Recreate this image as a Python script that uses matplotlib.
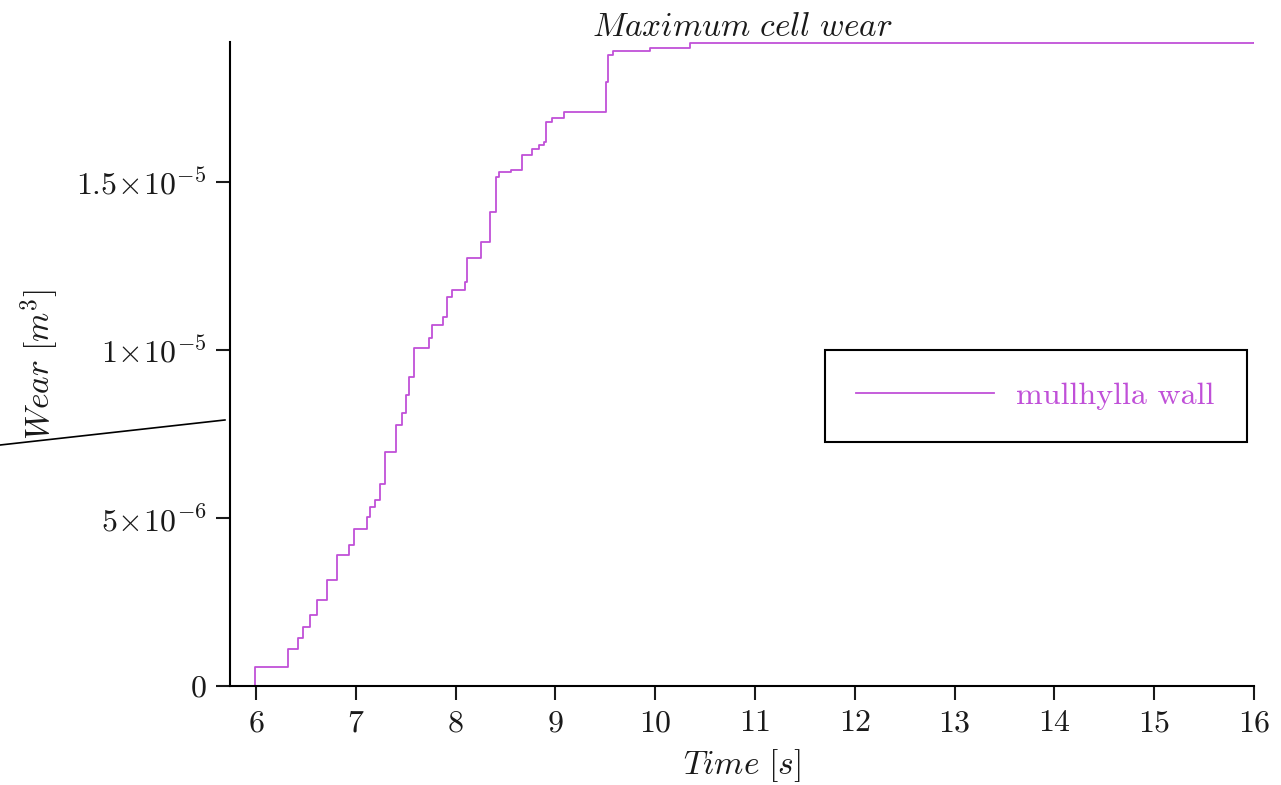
import matplotlib
matplotlib.use("Agg")
from matplotlib import pyplot as plt
from matplotlib.lines import Line2D

plt.rcParams['mathtext.fontset'] = 'cm'
plt.rcParams['font.family'] = 'serif'
plt.rcParams['font.serif'] = ['cmr10', 'DejaVu Serif']
plt.rcParams['axes.formatter.use_mathtext'] = True

# step change points (time in s, wear in 1e-6 m^3)
times = [5.74, 5.99, 6.32, 6.42, 6.47, 6.54, 6.61, 6.71, 6.81, 6.93, 6.98,
         7.11, 7.14, 7.19, 7.24, 7.29, 7.40, 7.46, 7.50, 7.53, 7.58, 7.73,
         7.76, 7.87, 7.91, 7.96, 8.09, 8.11, 8.26, 8.35, 8.41, 8.44, 8.56,
         8.67, 8.77, 8.84, 8.89, 8.91, 8.97, 9.09, 9.51, 9.53, 9.58, 9.95,
         10.35, 16.0]
wear_e6 = [0.0, 0.58, 1.10, 1.43, 1.76, 2.11, 2.56, 3.15, 3.90, 4.20, 4.68,
           5.04, 5.34, 5.54, 6.00, 6.97, 7.77, 8.12, 8.66, 9.20, 10.05, 10.35,
           10.74, 10.99, 11.59, 11.80, 12.03, 12.73, 13.22, 14.12, 15.16, 15.30,
           15.36, 15.80, 16.00, 16.10, 16.20, 16.80, 16.90, 17.09, 17.98, 18.78,
           18.91, 19.00, 19.13, 19.17]
wear = [w * 1e-6 for w in wear_e6]

x_ticks = [6, 7, 8, 9, 10, 11, 12, 13, 14, 15, 16]
y_ticks = [0, 5e-6, 1e-5, 1.5e-5]
y_tick_labels = [r'$0$', r'$5\!\times\!10^{-6}$', r'$1\!\times\!10^{-5}$',
                 r'$1.5\!\times\!10^{-5}$']

line_color = '#c050d8'
text_color = '#1a1a1a'

fig = plt.figure(figsize=(12.81, 7.85), dpi=100)
ax = fig.add_axes([0.1795, 0.126, 0.7995, 0.8205])

ax.step(times, wear, where='post', color=line_color, lw=1.3,
        label='mullhylla wall')

ax.set_xlim(5.74, 16)
ax.set_ylim(0, 1.917e-5)
ax.set_xticks(x_ticks)
ax.set_xticklabels([r'$%d$' % t for t in x_ticks])
ax.set_yticks(y_ticks)
ax.set_yticklabels(y_tick_labels)

for s in ['top', 'right']:
    ax.spines[s].set_visible(False)
for s in ['left', 'bottom']:
    ax.spines[s].set_linewidth(1.5)
ax.tick_params(direction='out', length=10, width=1.5, labelsize=23,
               colors=text_color, pad=7)

ax.set_title(r'$Maximum\ cell\ wear$', fontsize=24, color=text_color, pad=1)
ax.set_xlabel(r'$Time\ [s]$', fontsize=24, color=text_color)
ax.set_ylabel(r'$Wear\ [m^3]$', fontsize=24, color=text_color)
ax.xaxis.set_label_coords(0.5, -0.095)
ax.yaxis.set_label_coords(-0.165, 0.5)

leg = ax.legend(loc='center', bbox_to_anchor=(0.7866, 0.4503), fontsize=23,
                handlelength=4.3, handletextpad=0.7, borderpad=1.0,
                fancybox=False, framealpha=1, edgecolor='black')
leg.get_frame().set_linewidth(1.5)
for t in leg.get_texts():
    t.set_color(line_color)

# stray line on the left edge
fig.add_artist(Line2D([0, 0.1756], [0.4331, 0.465], color='black', lw=1.2))

fig.savefig('out.png', dpi=100)
